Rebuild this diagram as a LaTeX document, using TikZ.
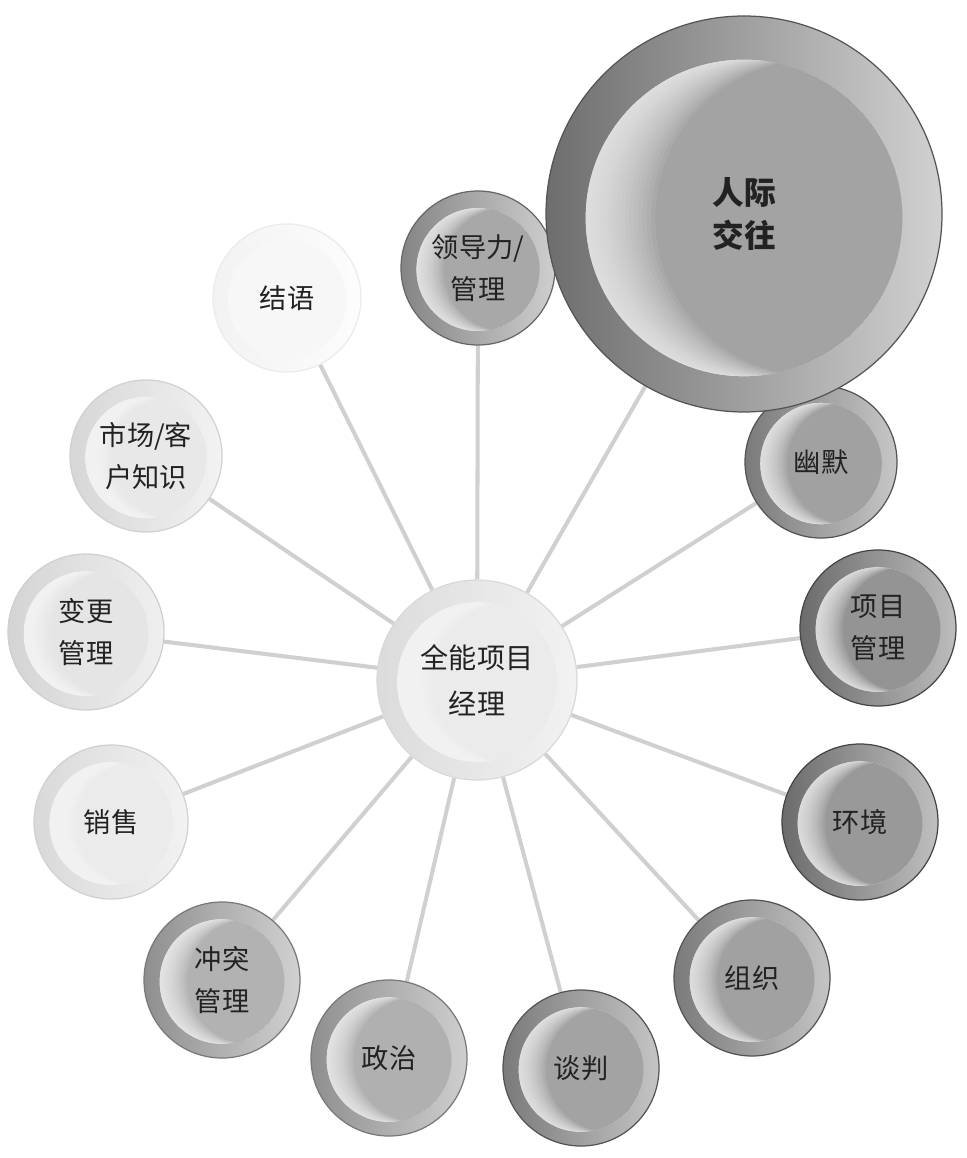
\documentclass[tikz,border=0pt]{standalone}
\usepackage{fontspec}
\newfontfamily\cjk{Noto Sans CJK SC}
\usetikzlibrary{backgrounds}
\definecolor{txt}{HTML}{222222}
\definecolor{linec}{HTML}{D0D0D0}
\tikzset{
  bub/.style n args={5}{circle, minimum size={2*#1*0.02cm}, inner sep=0pt, align=center,
    font=\cjk\fontsize{15.5}{24}\selectfont, text=txt, draw=#5, line width=0.7pt,
    path picture={
      \coordinate (pc) at (path picture bounding box.center);
      \shade[left color=#2, right color=#3] (pc) circle[radius=#1];
      \fill[#4] (pc) ++(0,0.02*#1) circle[radius=0.8*#1];
      \begin{scope}
        \clip (pc) ++(0,0.02*#1) circle[radius=0.8*#1];
        \foreach \k in {1,...,16}{
          \fill[white,opacity=0.07,even odd rule] (pc) ++(0,0.02*#1) circle[radius=0.8*#1]
            (pc) ++(\k*0.022*#1,0.02*#1) circle[radius=0.8*#1];
        }
      \end{scope}
    }},
  conn/.style={draw=linec, line width=2.3pt},
  bigfont/.style={font=\cjk\fontsize{18}{24}\selectfont\bfseries},
  midfont/.style={font=\cjk\fontsize{16}{26}\selectfont},
}
\begin{document}
\begin{tikzpicture}[x=0.02cm,y=-0.02cm]
\useasboundingbox (0,0) rectangle (966,1158);
\node[bub={100}{black!14}{black!5}{black!8}{black!15}, midfont] (c) at (477,680) {全能项目\\经理};
\node[bub={74}{black!5}{black!1}{black!3}{black!8}] (jieyu) at (287,298) {结语};
\node[bub={77}{black!48}{black!19}{black!34}{black!60}] (lingdao) at (478,268) {领导力/\\管理};
\node[bub={76}{black!16}{black!5}{black!9}{black!18}] (shichang) at (146,456) {市场/客\\户知识};
\node[bub={78}{black!17}{black!6}{black!10}{black!19}] (biangeng) at (86,632) {变更\\管理};
\node[bub={77}{black!15}{black!5}{black!8}{black!18}] (xiaoshou) at (111,822) {销售};
\node[bub={78}{black!44}{black!18}{black!30}{black!53}] (chongtu) at (222,980) {冲突\\管理};
\node[bub={78}{black!44}{black!19}{black!31}{black!53}] (zhengzhi) at (389,1058) {政治};
\node[bub={78}{black!52}{black!23}{black!36}{black!67}] (tanpan) at (581,1068) {谈判};
\node[bub={78}{black!52}{black!23}{black!37}{black!67}] (zuzhi) at (752,978) {组织};
\node[bub={78}{black!58}{black!25}{black!40}{black!73}] (huanjing) at (860,822) {环境};
\node[bub={78}{black!58}{black!26}{black!42}{black!73}] (xiangmu) at (878,628) {项目\\管理};
\node[bub={76}{black!52}{black!22}{black!37}{black!67}] (youmo) at (821,462) {幽默};
\node[bub={198}{black!57}{black!18}{black!36}{black!67}, bigfont] (renji) at (744,214) {人际\\交往};
\begin{scope}[on background layer]
  \fill[white] (0,0) rectangle (966,1158);
  \foreach \n in {jieyu,lingdao,renji,youmo,xiangmu,huanjing,zuzhi,tanpan,zhengzhi,chongtu,xiaoshou,biangeng,shichang}
    \draw[conn] (c) -- (\n);
\end{scope}
\end{tikzpicture}
\end{document}
